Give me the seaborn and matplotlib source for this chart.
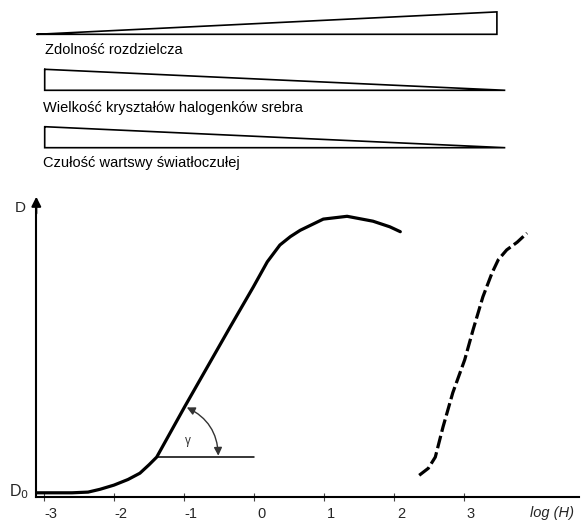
import numpy as np
import pandas as pd
import matplotlib
matplotlib.use("Agg")
import matplotlib.pyplot as plt
import matplotlib.transforms as mtransforms
import seaborn as sns

# characteristic curve of a photographic layer (log H vs density D)
solid_logH = [-3.10, -2.60, -2.37, -2.20, -2.00, -1.80, -1.63, -1.50, -1.39,
              -0.99, -0.34, -0.01, 0.19, 0.37, 0.52, 0.66, 0.99, 1.33, 1.70, 1.94, 2.09]
solid_D = [0.06, 0.06, 0.07, 0.11, 0.17, 0.25, 0.34, 0.46, 0.57,
           1.29, 2.43, 3.00, 3.36, 3.60, 3.72, 3.81, 3.97, 4.01, 3.94, 3.86, 3.79]

dashed_logH = [2.36, 2.49, 2.59, 2.70, 2.84, 3.01, 3.13, 3.27, 3.40, 3.49, 3.61, 3.76, 3.90]
dashed_D = [0.31, 0.41, 0.57, 1.00, 1.49, 1.96, 2.39, 2.86, 3.20, 3.39, 3.53, 3.64, 3.77]

x_ticks = [-3, -2, -1, 0, 1, 2, 3]

# wedges above the chart (x in log H units, y in D units)
wedge_labels = ["Zdolność rozdzielcza",
                "Wielkość kryształów halogenków srebra",
                "Czułość wartswy światłoczułej"]
wedge1_x = [-3.10, 3.47, 3.47, -3.10]
wedge1_y = [6.61, 6.61, 6.93, 6.61]
wedge2_x = [-2.99, -2.99, 3.59, -2.99]
wedge2_y = [6.11, 5.81, 5.81, 6.11]
wedge3_x = [-2.99, -2.99, 3.59, -2.99]
wedge3_y = [5.29, 4.99, 4.99, 5.29]

sns.set_theme(style="white")
plt.rcParams["font.family"] = ["Liberation Sans", "DejaVu Sans"]

fig = plt.figure(figsize=(5.81, 5.24), dpi=100)
ax = fig.add_axes([0, 0, 1, 1])
ax.set_xlim(-254 / 70, 327 / 70)
ax.set_ylim(-27 / 70, 497 / 70)

solid = pd.DataFrame({"logH": solid_logH, "D": solid_D})
dashed = pd.DataFrame({"logH": dashed_logH, "D": dashed_D})
sns.lineplot(data=solid, x="logH", y="D", color="black", lw=2.3, sort=False, ax=ax)
sns.lineplot(data=dashed, x="logH", y="D", color="black", lw=2.3, sort=False, ax=ax,
             dashes=False)
ax.lines[-1].set_dashes((4, 1.3))

# tangent line and gamma angle
ax.plot([-1.39, 0.0], [0.57, 0.57], color="black", lw=1.1)
ax.annotate("", xy=(-0.51, 0.59), xytext=(-0.96, 1.28),
            arrowprops=dict(arrowstyle="<|-|>", color="#333333", lw=1.0,
                            mutation_scale=12, shrinkA=0, shrinkB=0,
                            connectionstyle="arc3,rad=-0.3"))
ax.text(-0.94, 0.80, "γ", fontsize=8.5, ha="center", va="center", color="#333333")

# wedges
for wx, wy in [(wedge1_x, wedge1_y), (wedge2_x, wedge2_y), (wedge3_x, wedge3_y)]:
    ax.plot(wx, wy, color="black", lw=1.2, solid_joinstyle="miter")
label_pos = [(-2.99, 6.39), (-3.01, 5.56), (-3.01, 4.77)]
for (lx, ly), lab in zip(label_pos, wedge_labels):
    ax.text(lx, ly, lab, fontsize=10.5, ha="left", va="center", color="black")

# axes as arrows
for s in ["top", "right"]:
    ax.spines[s].set_visible(False)
ax.spines["left"].set_position(("data", -3.11))
ax.spines["left"].set_bounds(0, 4.15)
ax.spines["bottom"].set_position(("data", 0))
ax.spines["bottom"].set_bounds(-3.11, 4.65)
for s in ["left", "bottom"]:
    ax.spines[s].set_color("black")
    ax.spines[s].set_linewidth(1.5)
ax.annotate("", xy=(-3.11, 4.29), xytext=(-3.11, 4.05),
            arrowprops=dict(arrowstyle="-|>", color="black", lw=1.5,
                            mutation_scale=14, shrinkA=0, shrinkB=0))
ax.annotate("", xy=(4.70, 0), xytext=(4.45, 0),
            arrowprops=dict(arrowstyle="-|>", color="black", lw=1.5,
                            mutation_scale=14, shrinkA=0, shrinkB=0))

ax.set_yticks([])
ax.set_xticks(x_ticks)
ax.set_xticklabels([str(t) for t in x_ticks])
ax.tick_params(axis="x", direction="inout", length=6, width=0.8, color="#444444",
               labelsize=10.5, pad=4, bottom=True)
offset = mtransforms.ScaledTranslation(7 / 100, 0, fig.dpi_scale_trans)
for lbl in ax.get_xticklabels():
    lbl.set_transform(lbl.get_transform() + offset)
ax.set_xlabel("")
ax.set_ylabel("")

ax.text(4.26, -0.23, "log (H)", fontsize=10.5, style="italic", ha="center", va="center")
ax.text(-3.34, 4.13, "D", fontsize=11, ha="center", va="center")
ax.text(-3.22, 0.07, r"D$_0$", fontsize=11.5, ha="right", va="center")

fig.savefig("out.png", dpi=100)
